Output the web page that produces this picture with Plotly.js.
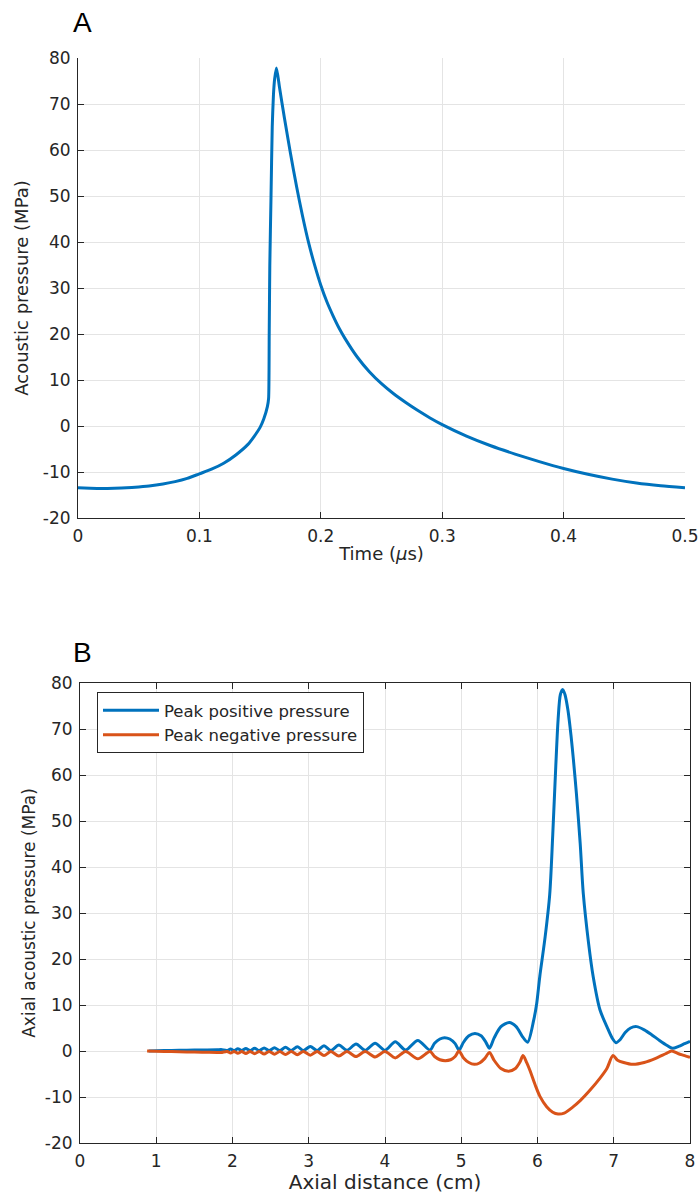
<!DOCTYPE html>
<html>
<head>
<meta charset="utf-8">
<script src="https://cdn.plot.ly/plotly-3.0.1.min.js"></script>
<style>html,body{margin:0;padding:0;background:#fff;}#plot{width:700px;height:1194px;}</style>
</head>
<body>
<div id="plot"></div>
<script>
// ---------- Panel A: pressure waveform ----------
const timeUs = [0, 0.01, 0.02, 0.03, 0.04, 0.05, 0.06, 0.07, 0.08, 0.09, 0.10, 0.11, 0.12, 0.13, 0.14, 0.145, 0.15, 0.153, 0.156, 0.157,
  0.1575, 0.158, 0.159, 0.160, 0.161, 0.162, 0.1635, 0.166, 0.170, 0.175, 0.180, 0.185, 0.190, 0.195,
  0.200, 0.205, 0.210, 0.215, 0.220, 0.23, 0.24, 0.25, 0.26, 0.27, 0.28, 0.29, 0.30, 0.32, 0.34, 0.36, 0.38, 0.40, 0.42, 0.44, 0.46, 0.48, 0.50];
const pressureMPa = [-13.45, -13.55, -13.6, -13.55, -13.45, -13.25, -13.0, -12.6, -12.1, -11.4, -10.4, -9.4, -8.1, -6.3, -4.0, -2.3, -0.3, 1.5, 4.2, 6.0,
  20, 35, 50, 65, 72, 75.5, 77.8, 73.6, 67.0, 59.3, 52.1, 45.6, 39.8, 34.9,
  30.6, 27.0, 24.0, 21.3, 19.0, 15.0, 11.8, 9.2, 7.0, 5.1, 3.35, 1.75, 0.3, -2.2, -4.3, -6.1, -7.75, -9.25, -10.5, -11.55, -12.4, -13.0, -13.45];

// ---------- Panel B: axial pressure ----------
const posX = [0.9, 1.0, 1.2, 1.4, 1.6, 1.8, 1.85, 1.93, 1.975, 2.02, 2.07, 2.12, 2.175, 2.23, 2.29, 2.35, 2.415, 2.48, 2.55, 2.62, 2.695, 2.77, 2.85, 2.93,
  3.02, 3.11, 3.2, 3.29, 3.395, 3.5, 3.62, 3.74, 3.87, 4.0, 4.135, 4.27, 4.43, 4.59, 4.65, 4.72, 4.78, 4.85, 4.92, 4.97,
  5.03, 5.10, 5.18, 5.26, 5.32, 5.37, 5.43, 5.52, 5.63, 5.72, 5.80, 5.87, 5.95, 5.99, 6.03, 6.10, 6.16, 6.20, 6.24, 6.27, 6.30, 6.33, 6.36,
  6.40, 6.44, 6.47, 6.51, 6.56, 6.60, 6.67, 6.73, 6.82, 6.91, 6.98, 7.03, 7.08, 7.15, 7.22, 7.30, 7.40, 7.50, 7.60, 7.70, 7.77, 7.85, 7.93, 8.0];
const posPeak = [0, 0.05, 0.12, 0.18, 0.22, 0.25, 0.3, 0.1, 0.45, 0.1, 0.5, 0.1, 0.55, 0.1, 0.6, 0.1, 0.65, 0.1, 0.7, 0.1, 0.8, 0.1, 0.9, 0.1,
  1.0, 0.1, 1.15, 0.1, 1.3, 0.15, 1.5, 0.15, 1.7, 0.15, 2.0, 0.2, 2.3, 0.2, 1.7, 2.6, 2.9, 2.6, 1.6, 0.2,
  1.9, 3.3, 3.8, 3.3, 2.0, 0.6, 2.8, 5.3, 6.2, 5.3, 3.2, 1.9, 6.7, 10.4, 16.2, 24.8, 34, 47, 62, 72, 77.5, 78.6, 77.5,
  74, 68.5, 63.5, 56, 45.1, 34.3, 23.4, 16.2, 8.9, 5.3, 2.8, 1.8, 2.4, 4.0, 5.0, 5.3, 4.6, 3.5, 2.3, 1.2, 0.6, 1.0, 1.6, 2.1];

const negX = [0.88, 1.0, 1.2, 1.4, 1.6, 1.8, 1.85, 1.93, 1.975, 2.02, 2.07, 2.12, 2.175, 2.23, 2.29, 2.35, 2.415, 2.48, 2.55, 2.62, 2.695, 2.77, 2.85, 2.93,
  3.02, 3.11, 3.2, 3.29, 3.395, 3.5, 3.62, 3.74, 3.87, 4.0, 4.135, 4.27, 4.43, 4.59, 4.65, 4.72, 4.79, 4.86, 4.92, 4.97,
  5.03, 5.10, 5.17, 5.24, 5.31, 5.37, 5.43, 5.52, 5.62, 5.71, 5.77, 5.81, 5.86, 5.90, 5.97, 6.03, 6.12, 6.20, 6.27, 6.35, 6.47, 6.56, 6.69,
  6.82, 6.91, 6.99, 7.05, 7.13, 7.25, 7.40, 7.55, 7.68, 7.76, 7.85, 7.93, 8.0];
const negPeak = [0, -0.05, -0.12, -0.2, -0.28, -0.3, -0.35, -0.1, -0.45, -0.1, -0.5, -0.1, -0.55, -0.1, -0.6, -0.1, -0.65, -0.1, -0.7, -0.1, -0.75, -0.1, -0.8, -0.1,
  -0.9, -0.1, -1.0, -0.1, -1.1, -0.1, -1.2, -0.1, -1.3, -0.1, -1.5, -0.1, -1.7, -0.1, -1.2, -1.9, -2.1, -1.9, -1.2, 0,
  -1.5, -2.5, -2.9, -2.6, -1.6, -0.3, -2.0, -3.8, -4.4, -3.8, -2.4, -1.0, -2.6, -4.2, -7.4, -9.8, -12.1, -13.3, -13.7, -13.5, -12.1, -10.8, -8.5,
  -5.9, -3.8, -1.0, -2.0, -2.5, -2.9, -2.5, -1.6, -0.6, 0, -0.6, -1.0, -1.4];

const yTickVals = [-20, -10, 0, 10, 20, 30, 40, 50, 60, 70, 80];
const yTickText = ['-20', '-10', '0', '10', '20', '30', '40', '50', '60', '70', '80'];

const BLUE = '#0072BD', RED = '#D95319', AX = '#262626', GRID = '#e4e4e4';
const W = 700, H = 1194;
const FONT = 'DejaVu Sans';

const traces = [
  {x: timeUs, y: pressureMPa, xaxis: 'x', yaxis: 'y', mode: 'lines', showlegend: false,
   line: {color: BLUE, width: 3, shape: 'spline', smoothing: 0.6}},
  {x: posX, y: posPeak, xaxis: 'x2', yaxis: 'y2', mode: 'lines', name: 'Peak positive pressure',
   line: {color: BLUE, width: 3, shape: 'spline', smoothing: 0.8}},
  {x: negX, y: negPeak, xaxis: 'x2', yaxis: 'y2', mode: 'lines', name: 'Peak negative pressure',
   line: {color: RED, width: 3, shape: 'spline', smoothing: 0.8}}
];

function axisBase(extra) {
  return Object.assign({
    showline: true, linecolor: AX, linewidth: 1,
    ticks: 'inside', ticklen: 6, tickcolor: AX, tickwidth: 1,
    showgrid: true, gridcolor: GRID, gridwidth: 1,
    zeroline: false, fixedrange: true,
    tickfont: {family: FONT, size: 17, color: AX},
    ticklabelstandoff: 3
  }, extra);
}

const layout = {
  width: W, height: H,
  margin: {l: 0, r: 0, t: 0, b: 0},
  paper_bgcolor: '#fff', plot_bgcolor: '#fff',
  font: {family: FONT, size: 17, color: AX},
  showlegend: true,
  xaxis: axisBase({domain: [78 / W, 685 / W], anchor: 'y', range: [0, 0.5], dtick: 0.1, tick0: 0,
    title: {text: 'Time (<i>μ</i>s)', font: {family: FONT, size: 18, color: AX}, standoff: 1}}),
  yaxis: axisBase({domain: [(H - 518) / H, (H - 58) / H], anchor: 'x', range: [-20, 80],
    tickmode: 'array', tickvals: yTickVals, ticktext: yTickText,
    title: {text: 'Acoustic pressure (MPa)', font: {family: FONT, size: 18, color: AX}, standoff: 9}}),
  xaxis2: axisBase({domain: [80 / W, 690 / W], anchor: 'y2', range: [0, 8], dtick: 1, tick0: 0, mirror: 'ticks',
    title: {text: 'Axial distance (cm)', font: {family: FONT, size: 20, color: AX}, standoff: 1}}),
  yaxis2: axisBase({domain: [(H - 1143) / H, (H - 683) / H], anchor: 'x2', range: [-20, 80], mirror: 'ticks',
    tickmode: 'array', tickvals: yTickVals, ticktext: yTickText,
    title: {text: 'Axial acoustic pressure (MPa)', font: {family: FONT, size: 17, color: AX}, standoff: 4}}),
  legend: {x: 97 / W, y: (H - 692) / H, xanchor: 'left', yanchor: 'top',
    bgcolor: '#fff', bordercolor: AX, borderwidth: 1,
    font: {family: FONT, size: 16.5, color: AX}, itemwidth: 56, tracegroupgap: 0},
  annotations: [
    {text: 'A', xref: 'paper', yref: 'paper', x: 82.5 / W, y: (H - 22) / H, xanchor: 'center', yanchor: 'middle',
     showarrow: false, font: {family: 'Liberation Sans', size: 28, color: '#000'}},
    {text: 'B', xref: 'paper', yref: 'paper', x: 82.5 / W, y: (H - 652) / H, xanchor: 'center', yanchor: 'middle',
     showarrow: false, font: {family: 'Liberation Sans', size: 28, color: '#000'}}
  ]
};

Plotly.newPlot('plot', traces, layout, {displayModeBar: false, staticPlot: true});
</script>
</body>
</html>
